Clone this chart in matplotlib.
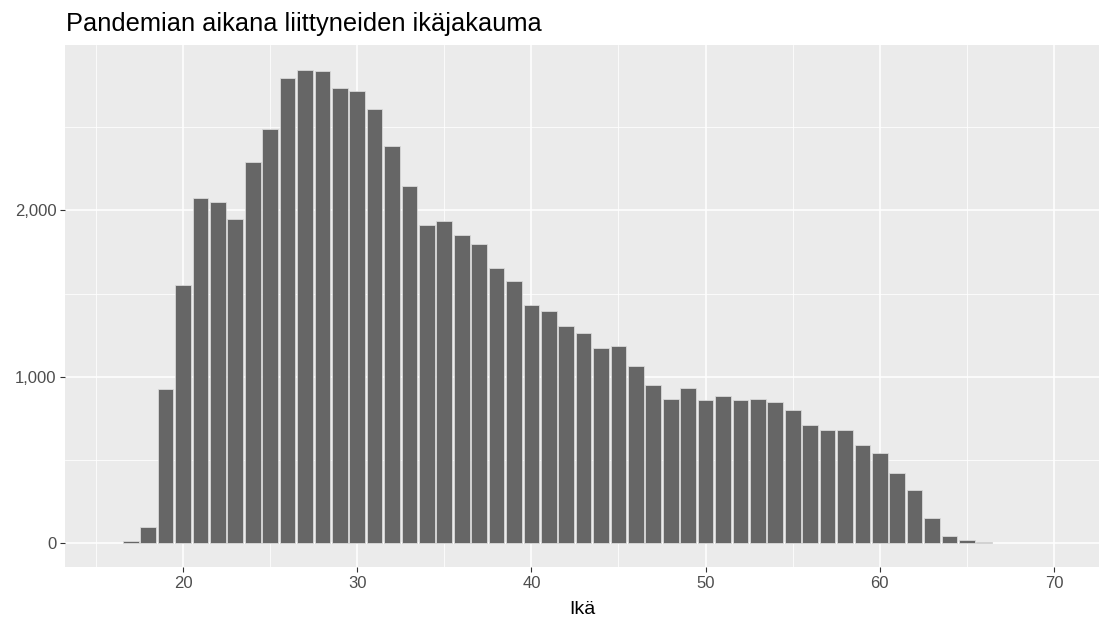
import matplotlib
matplotlib.use("Agg")
import matplotlib.pyplot as plt
from matplotlib.ticker import FuncFormatter, MultipleLocator

ages = list(range(17, 67))
counts = [17, 101, 927, 1553, 2076, 2052, 1950, 2290, 2488, 2795,
          2847, 2839, 2737, 2719, 2609, 2386, 2146, 1911, 1939, 1853,
          1801, 1655, 1578, 1432, 1398, 1304, 1262, 1174, 1183, 1063,
          951, 867, 935, 859, 885, 859, 867, 851, 801, 713,
          681, 681, 592, 542, 422, 320, 155, 43, 19, 9]
title = "Pandemian aikana liittyneiden ikäjakauma"
xlabel = "Ikä"
xticks = [20, 30, 40, 50, 60, 70]
yticks = [0, 1000, 2000]

plt.rcParams['font.family'] = ['Liberation Sans', 'DejaVu Sans']
fig = plt.figure(figsize=(11, 6.2), dpi=100)
ax = fig.add_axes([65.3/1100, 1 - 567/620, (1098.7-65.3)/1100, (567-44.7)/620])
ax.set_facecolor('#EBEBEB')
ax.bar(ages, counts, width=0.9, color='#666666', edgecolor='#D9D9D9', linewidth=0.6, zorder=3)
ax.set_xlim(13.24, 72.57)
ax.set_ylim(-142, 2996)
ax.set_xticks(xticks)
ax.set_yticks(yticks)
ax.xaxis.set_minor_locator(MultipleLocator(5))
ax.yaxis.set_minor_locator(MultipleLocator(500))
ax.yaxis.set_major_formatter(FuncFormatter(lambda v, p: f"{int(v):,}"))
ax.grid(True, which='major', color='white', linewidth=1.1, zorder=0)
ax.grid(True, which='minor', color='white', linewidth=0.55, zorder=0)
ax.set_axisbelow(True)
for s in ax.spines.values():
    s.set_visible(False)
ax.tick_params(which='major', length=3.5, width=0.8, color='#333333', labelsize=12, labelcolor='#4D4D4D', pad=3)
ax.tick_params(which='minor', length=0)
ax.set_xlabel(xlabel, fontsize=14, color='black', labelpad=7)
fig.text(66/1100, 1 - 24/620, title, fontsize=18.3, color='black', va='center', ha='left')
fig.savefig('out.png', dpi=100, facecolor='white')
